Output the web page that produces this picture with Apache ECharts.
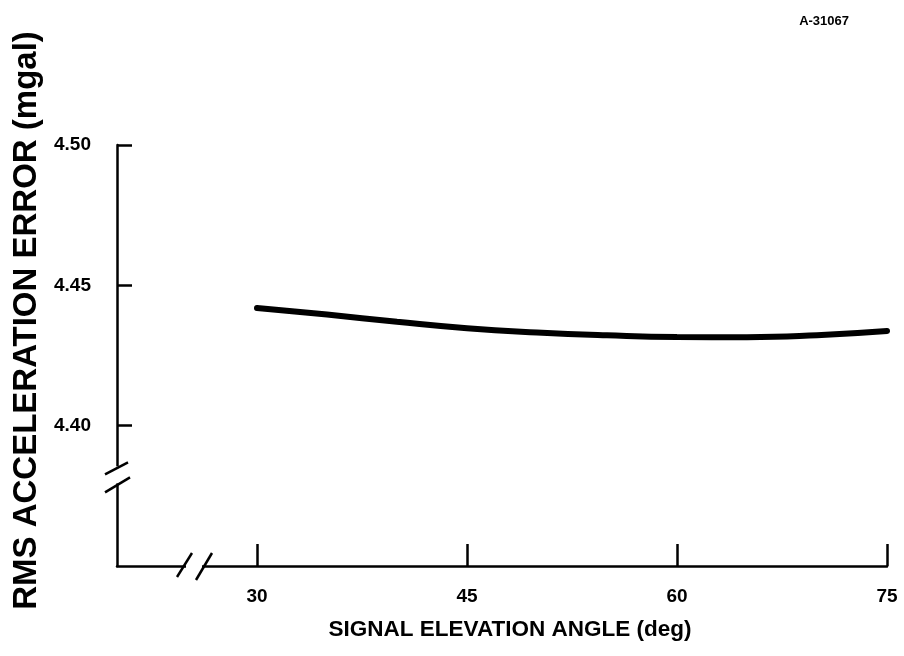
<!DOCTYPE html>
<html>
<head>
<meta charset="utf-8">
<script src="https://cdn.jsdelivr.net/npm/echarts@6/dist/echarts.min.js"></script>
<style>
    html, body { margin: 0; padding: 0; background: #fff; }
    #chart { width: 904px; height: 656px; }
</style>
</head>
<body>
<div id="chart"></div>
<script>
    // elevation angle (deg) and rms acceleration error (mgal)
    let angles = [30, 35, 40, 45, 50, 55, 60, 65, 70, 75]
    let rmsError = [4.4419, 4.4396, 4.4370, 4.4347, 4.4332, 4.4322, 4.4316, 4.4315, 4.4322, 4.4337]
    let xTicks = [30, 45, 60, 75]
    let yTicks = [4.40, 4.45, 4.50]

    let font = "'Liberation Sans', Arial, sans-serif"
    let myChart = echarts.init(document.getElementById('chart'), null, { renderer: 'canvas' })

    let options = {
        animation: false,
        backgroundColor: '#fff',
        title: {
            text: 'A-31067',
            right: 50,
            top: 10,
            textStyle: { color: '#000', fontSize: 13, fontWeight: 'bold', fontFamily: font }
        },
        grid: {
            left: 117,
            right: 17,
            top: 145,
            bottom: 90,
            outerBoundsMode: 'none'
        },
        xAxis: {
            type: 'value',
            min: 20,
            max: 75,
            name: 'SIGNAL ELEVATION ANGLE (deg)',
            nameLocation: 'middle',
            nameGap: 52,
            nameTextStyle: {
                color: '#000', fontSize: 22.5, fontWeight: 'bold', fontFamily: font,
                padding: [0, 0, 0, 16]
            },
            splitLine: { show: false },
            axisLine: { show: true, lineStyle: { color: '#000', width: 2.5 } },
            axisTick: {
                show: true, inside: true, length: 22, customValues: xTicks,
                lineStyle: { color: '#000', width: 2.5 }
            },
            axisLabel: {
                customValues: xTicks,
                margin: 21,
                color: '#000', fontSize: 19, fontWeight: 'bold', fontFamily: font
            }
        },
        yAxis: {
            type: 'value',
            min: 4.35,
            max: 4.50,
            name: 'RMS ACCELERATION ERROR (mgal)',
            nameLocation: 'middle',
            nameGap: 74,
            nameTextStyle: {
                color: '#000', fontSize: 33, fontWeight: 'bold', fontFamily: font,
                padding: [0, 0, 0, 70]
            },
            splitLine: { show: false },
            axisLine: { show: true, lineStyle: { color: '#000', width: 2.5 } },
            axisTick: {
                show: true, inside: true, length: 15, customValues: yTicks,
                lineStyle: { color: '#000', width: 2.5 }
            },
            axisLabel: {
                customValues: yTicks,
                margin: 26,
                formatter: function (v) { return v.toFixed(2) },
                color: '#000', fontSize: 19, fontWeight: 'bold', fontFamily: font
            }
        },
        series: [{
            type: 'line',
            data: angles.map(function (a, i) { return [a, rmsError[i]] }),
            smooth: true,
            showSymbol: false,
            lineStyle: { color: '#000', width: 6, cap: 'round' }
        }]
    }
    myChart.setOption(options)

    // axis break marks (the "//" on both axes)
    function breakMarks() {
        let yb = myChart.convertToPixel({ gridIndex: 0 }, [20, 4.383])
        let xb = myChart.convertToPixel({ gridIndex: 0 }, [25.5, 4.35])
        let blk = { stroke: '#000', lineWidth: 2.5 }
        let wht = { stroke: '#fff', lineWidth: 5 }
        let els = [
            // gap in y axis
            { type: 'line', shape: { x1: yb[0], y1: yb[1] - 7, x2: yb[0], y2: yb[1] + 10 }, style: wht, z: 100 },
            { type: 'line', shape: { x1: yb[0] - 12, y1: yb[1] + 1, x2: yb[0] + 11, y2: yb[1] - 11 }, style: blk, z: 101 },
            { type: 'line', shape: { x1: yb[0] - 12, y1: yb[1] + 19, x2: yb[0] + 13, y2: yb[1] + 4 }, style: blk, z: 101 },
            // gap in x axis
            { type: 'line', shape: { x1: xb[0] - 8, y1: xb[1], x2: xb[0] + 8, y2: xb[1] }, style: wht, z: 100 },
            { type: 'line', shape: { x1: xb[0] - 17, y1: xb[1] + 11, x2: xb[0] - 2, y2: xb[1] - 13 }, style: blk, z: 101 },
            { type: 'line', shape: { x1: xb[0] + 2, y1: xb[1] + 14, x2: xb[0] + 18, y2: xb[1] - 13 }, style: blk, z: 101 }
        ]
        myChart.setOption({ graphic: els })
    }
    breakMarks()
</script>
</body>
</html>
